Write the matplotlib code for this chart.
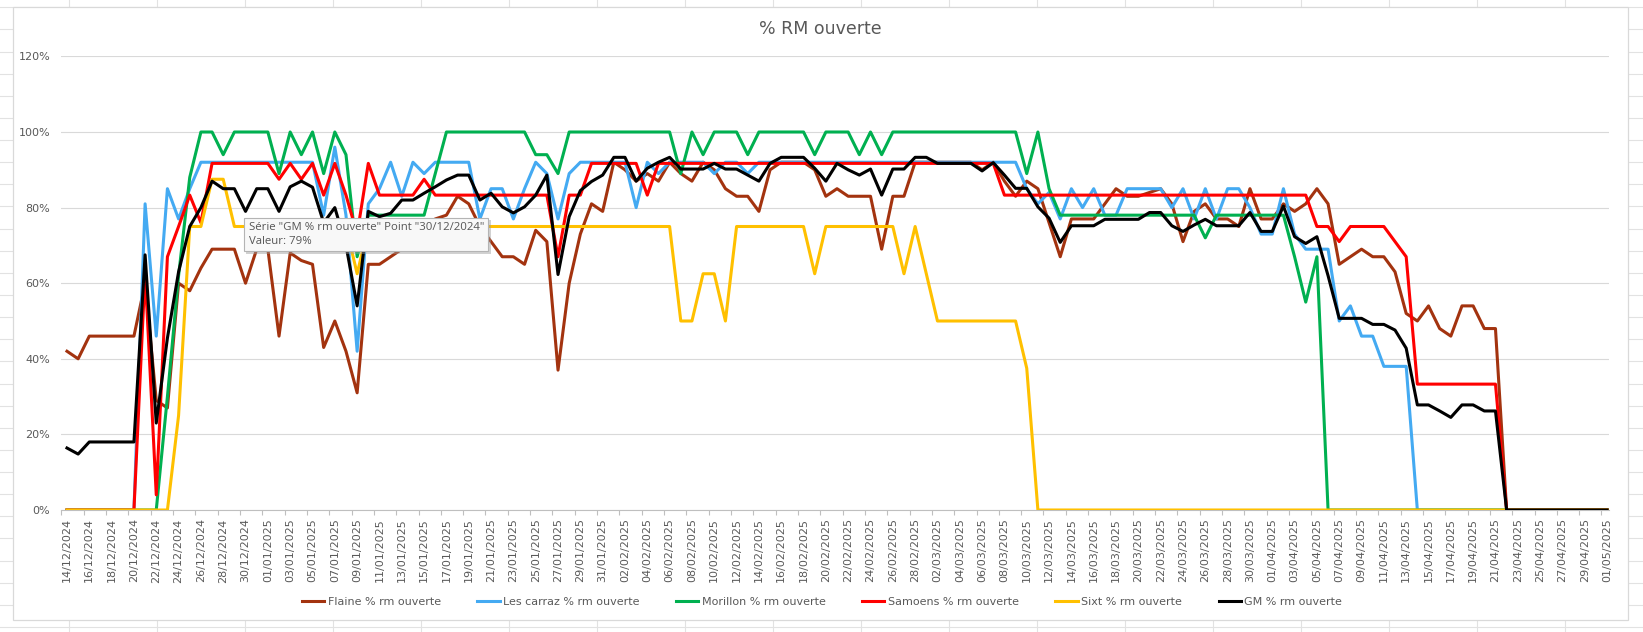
import pandas as pd
import matplotlib
matplotlib.use('Agg')
import matplotlib.pyplot as plt
from matplotlib.lines import Line2D
from matplotlib.patches import Rectangle

W, H = 1643, 632

DATES = pd.date_range('2024-12-14', '2025-05-01', freq='D')

# valeurs (%), une par jour du 14/12/2024 au 01/05/2025
FLAINE = [42, 40, 46, 46, 46, 46, 46, 60, 29, 27,
          60, 58, 64, 69, 69, 69, 60, 69, 69, 46,
          68, 66, 65, 43, 50, 42, 31, 65, 65, 67,
          69, 71, 75, 77, 78, 83, 81, 75, 71, 67,
          67, 65, 74, 71, 37, 60, 73, 81, 79, 92,
          90, 87, 89, 87, 92, 89, 87, 92, 90, 85,
          83, 83, 79, 90, 92, 92, 92, 90, 83, 85,
          83, 83, 83, 69, 83, 83, 92, 92, 92, 92,
          92, 92, 90, 92, 87, 83, 87, 85, 76, 67,
          77, 77, 77, 81, 85, 83, 83, 84, 85, 81,
          71, 79, 81, 77, 77, 75, 85, 77, 77, 81,
          79, 81, 85, 81, 65, 67, 69, 67, 67, 63,
          52, 50, 54, 48, 46, 54, 54, 48, 48, 0,
          0, 0, 0, 0, 0, 0, 0, 0, 0]

LES_CARRAZ = [0, 0, 0, 0, 0, 0, 0, 81, 46, 85,
              77, 85, 92, 92, 92, 92, 92, 92, 92, 92,
              92, 92, 92, 78, 96, 78, 42, 81, 85, 92,
              83, 92, 89, 92, 92, 92, 92, 77, 85, 85,
              77, 85, 92, 89, 77, 89, 92, 92, 92, 92,
              92, 80, 92, 89, 92, 92, 92, 92, 89, 92,
              92, 89, 92, 92, 92, 92, 92, 92, 92, 92,
              92, 92, 92, 92, 92, 92, 92, 92, 92, 92,
              92, 92, 92, 92, 92, 92, 85, 81, 84, 77,
              85, 80, 85, 78, 78, 85, 85, 85, 85, 80,
              85, 77, 85, 77, 85, 85, 80, 73, 73, 85,
              73, 69, 69, 69, 50, 54, 46, 46, 38, 38,
              38, 0, 0, 0, 0, 0, 0, 0, 0, 0,
              0, 0, 0, 0, 0, 0, 0, 0, 0]

MORILLON = [0, 0, 0, 0, 0, 0, 0, 0, 0, 30,
            62, 88, 100, 100, 94, 100, 100, 100, 100, 89,
            100, 94, 100, 89, 100, 94, 67, 78, 78, 78,
            78, 78, 78, 89, 100, 100, 100, 100, 100, 100,
            100, 100, 94, 94, 89, 100, 100, 100, 100, 100,
            100, 100, 100, 100, 100, 89, 100, 94, 100, 100,
            100, 94, 100, 100, 100, 100, 100, 94, 100, 100,
            100, 94, 100, 94, 100, 100, 100, 100, 100, 100,
            100, 100, 100, 100, 100, 100, 89, 100, 85, 78,
            78, 78, 78, 78, 78, 78, 78, 78, 78, 78,
            78, 78, 72, 78, 78, 78, 78, 78, 78, 78,
            67, 55, 67, 0, 0, 0, 0, 0, 0, 0,
            0, 0, 0, 0, 0, 0, 0, 0, 0, 0,
            0, 0, 0, 0, 0, 0, 0, 0, 0]

SAMOENS = [0, 0, 0, 0, 0, 0, 0, 63, 4, 67,
           75, 83.3, 76, 91.7, 91.7, 91.7, 91.7, 91.7, 91.7, 87.5,
           91.7, 87.5, 91.7, 83.3, 91.7, 83.3, 73, 91.7, 83.3, 83.3,
           83.3, 83.3, 87.5, 83.3, 83.3, 83.3, 83.3, 83.3, 83.3, 83.3,
           83.3, 83.3, 83.3, 83.3, 67, 83.3, 83.3, 91.7, 91.7, 91.7,
           91.7, 91.7, 83.3, 91.7, 91.7, 91.7, 91.7, 91.7, 91.7, 91.7,
           91.7, 91.7, 91.7, 91.7, 91.7, 91.7, 91.7, 91.7, 91.7, 91.7,
           91.7, 91.7, 91.7, 91.7, 91.7, 91.7, 91.7, 91.7, 91.7, 91.7,
           91.7, 91.7, 91.7, 91.7, 83.3, 83.3, 83.3, 83.3, 83.3, 83.3,
           83.3, 83.3, 83.3, 83.3, 83.3, 83.3, 83.3, 83.3, 83.3, 83.3,
           83.3, 83.3, 83.3, 83.3, 83.3, 83.3, 83.3, 83.3, 83.3, 83.3,
           83.3, 83.3, 75, 75, 71, 75, 75, 75, 75, 71,
           67, 33.3, 33.3, 33.3, 33.3, 33.3, 33.3, 33.3, 33.3, 0,
           0, 0, 0, 0, 0, 0, 0, 0, 0]

SIXT = [0, 0, 0, 0, 0, 0, 0, 0, 0, 0,
        25, 75, 75, 87.5, 87.5, 75, 75, 75, 75, 75,
        75, 75, 75, 75, 75, 75, 62.5, 75, 75, 75,
        75, 75, 75, 75, 75, 75, 75, 75, 75, 75,
        75, 75, 75, 75, 75, 75, 75, 75, 75, 75,
        75, 75, 75, 75, 75, 50, 50, 62.5, 62.5, 50,
        75, 75, 75, 75, 75, 75, 75, 62.5, 75, 75,
        75, 75, 75, 75, 75, 62.5, 75, 62.5, 50, 50,
        50, 50, 50, 50, 50, 50, 37.5, 0, 0, 0,
        0, 0, 0, 0, 0, 0, 0, 0, 0, 0,
        0, 0, 0, 0, 0, 0, 0, 0, 0, 0,
        0, 0, 0, 0, 0, 0, 0, 0, 0, 0,
        0, 0, 0, 0, 0, 0, 0, 0, 0, 0,
        0, 0, 0, 0, 0, 0, 0, 0, 0]

GM = [16.4, 14.8, 18, 18, 18, 18, 18, 67.5, 23, 45.5,
      63, 75, 80, 87, 85, 85, 79, 85, 85, 79,
      85.5, 87, 85.4, 76, 80, 70, 54, 79, 77.6, 78.5,
      82, 82, 83.8, 85.5, 87.3, 88.6, 88.6, 82, 83.8, 80.2,
      78.6, 80.2, 83.3, 88.6, 62.3, 77.6, 84.5, 86.9, 88.6, 93.3,
      93.3, 87, 90.4, 92, 93.3, 90.2, 90.2, 90.2, 91.7, 90.2,
      90.2, 88.6, 87, 91.7, 93.3, 93.3, 93.3, 90.4, 87, 91.7,
      90, 88.6, 90.2, 83.3, 90.2, 90.2, 93.3, 93.3, 91.7, 91.7,
      91.7, 91.7, 89.7, 91.9, 88.6, 85.1, 85.1, 80.2, 77.2, 70.8,
      75.2, 75.2, 75.2, 76.9, 76.9, 76.9, 76.9, 78.7, 78.7, 75.2,
      73.7, 75.4, 76.9, 75.2, 75.2, 75.2, 78.7, 73.7, 73.7, 80.4,
      72.3, 70.5, 72.3, 62, 50.7, 50.7, 50.7, 49.1, 49.1, 47.6,
      42.8, 27.8, 27.8, 26.2, 24.5, 27.8, 27.8, 26.2, 26.2, 0,
      0, 0, 0, 0, 0, 0, 0, 0, 0]

SERIES = [
    ("Flaine % rm ouverte", FLAINE, '#A3330F'),
    ("Les carraz % rm ouverte", LES_CARRAZ, '#44AAF2'),
    ("Morillon % rm ouverte", MORILLON, '#00B050'),
    ("Samoens % rm ouverte", SAMOENS, '#FF0000'),
    ("Sixt % rm ouverte", SIXT, '#FFC000'),
    ("GM % rm ouverte", GM, '#000000'),
]
Y_TICKS = [0, 20, 40, 60, 80, 100, 120]

TXT = '#595959'
GRID = '#D9D9D9'


def fx(px):
    return px / W


def fy(py):
    return 1 - py / H


fig = plt.figure(figsize=(W / 100, H / 100), dpi=100)
fig.patch.set_facecolor('white')

# quadrillage de la feuille Excel derriere le graphique
for k in range(29):
    y = 7.3 + 22.13 * k
    fig.add_artist(Line2D([0, 1], [fy(y), fy(y)], color='#E2E2E2', lw=0.8, zorder=-3))
for k in range(19):
    x = 69.3 + 88 * k
    fig.add_artist(Line2D([fx(x), fx(x)], [0, 1], color='#E2E2E2', lw=0.8, zorder=-3))

# zone du graphique
fig.add_artist(Rectangle((fx(13.3), fy(620)), fx(1628.3) - fx(13.3), fy(7.3) - fy(620),
                         facecolor='white', edgecolor=GRID, lw=0.9, zorder=-2))

x0, x1 = 61.4, 1609.3
ax = fig.add_axes([fx(x0), fy(510), (x1 - x0) / W, (510 - 56.4) / H])
ax.set_zorder(0)
ax.patch.set_alpha(0)

x = list(range(len(DATES)))
for label, vals, col in SERIES:
    ax.plot(x, vals, color=col, lw=2.2, label=label, solid_joinstyle='round')

ax.set_xlim(-0.5, 138.2)
ax.set_ylim(0, 120)
ax.set_yticks(Y_TICKS)
ax.set_yticklabels([f"{v}%" for v in Y_TICKS])
ax.yaxis.grid(True, color=GRID, lw=0.8)
ax.set_axisbelow(True)

ax.set_xticks(x[::2])
ax.set_xticklabels([d.strftime('%d/%m/%Y') for d in DATES[::2]], rotation=90)
ax.set_xticks([i - 0.5 for i in x[::2]], minor=True)
ax.tick_params(axis='x', which='major', length=0, pad=6, labelsize=8, labelcolor=TXT)
ax.tick_params(axis='x', which='minor', length=3.6, width=0.8, color='#BFBFBF')
ax.tick_params(axis='y', length=0, pad=8, labelsize=8, labelcolor=TXT)

for s in ['top', 'right', 'left']:
    ax.spines[s].set_visible(False)
ax.spines['bottom'].set_color('#BFBFBF')
ax.spines['bottom'].set_linewidth(0.8)
ax.spines['bottom'].set_zorder(0.5)

fig.text(fx(820), fy(29), '% RM ouverte', ha='center', va='center', fontsize=12.5, color=TXT)

leg = fig.legend(*ax.get_legend_handles_labels(), loc='center',
                 bbox_to_anchor=(fx(822), fy(602)), ncol=6, frameon=False, fontsize=8,
                 handlelength=2, handletextpad=0.3, columnspacing=3.3)
for t in leg.get_texts():
    t.set_color(TXT)

# infobulle Excel
bx0, by0, bx1, by1 = 244, 217.7, 488, 251
fig.add_artist(Rectangle((fx(bx0 + 2.5), fy(by1 + 2.5)), fx(bx1) - fx(bx0), fy(by0) - fy(by1),
                         facecolor='#9A9A9A', edgecolor='none', alpha=0.45, zorder=5))
fig.add_artist(Rectangle((fx(bx0), fy(by1)), fx(bx1) - fx(bx0), fy(by0) - fy(by1),
                         facecolor='#F8F8F8', edgecolor='#B4B4B4', lw=0.8, zorder=6))
fig.text(fx(249), fy(227.7), 'Série "GM % rm ouverte" Point "30/12/2024"', ha='left', va='center',
         fontsize=8.2, family='Open Sans', color='#555555', zorder=7)
fig.text(fx(249), fy(241.7), 'Valeur: 79%', ha='left', va='center',
         fontsize=8.2, family='Open Sans', color='#555555', zorder=7)

fig.savefig('out.png', dpi=100)
